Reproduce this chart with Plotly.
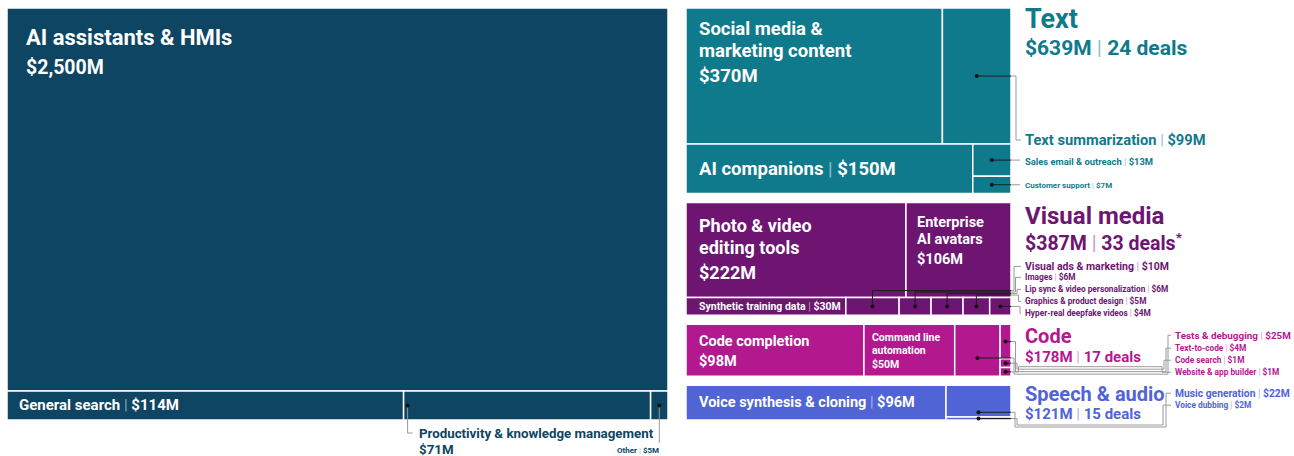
import plotly.graph_objects as go

# ---------------- data ----------------
assist_names = ["AI assistants & HMIs", "General search",
                "Productivity & knowledge management", "Other"]
assist_values = [2500, 114, 71, 5]

text_names = ["Social media & marketing content", "Text summarization",
              "AI companions", "Sales email & outreach", "Customer support"]
text_values = [370, 99, 150, 13, 7]

visual_names = ["Photo & video editing tools", "Enterprise AI avatars",
                "Synthetic training data", "Visual ads & marketing", "Images",
                "Lip sync & video personalization", "Graphics & product design",
                "Hyper-real deepfake videos"]
visual_values = [222, 106, 30, 10, 6, 6, 5, 4]

code_names = ["Code completion", "Command line automation", "Tests & debugging",
              "Text-to-code", "Code search", "Website & app builder"]
code_values = [98, 50, 25, 4, 1, 1]

speech_names = ["Voice synthesis & cloning", "Music generation", "Voice dubbing"]
speech_values = [96, 22, 2]

group_titles = ["Text", "Visual media", "Code", "Speech & audio"]
group_totals = [639, 387, 178, 121]
group_deals = [24, 33, 17, 15]

# ---------------- style ----------------
FONT = "Roboto, 'Noto Sans', Arial, sans-serif"
C_ASSIST = "#0d4562"
C_TEXT = "#0f7a8b"
C_VISUAL = "#6d1571"
C_CODE = "#b3188f"
C_SPEECH = "#5064d6"
IN_LINE = "#1c1c1c"
OUT_LINE = "#9a9a9a"

W, H = 1294, 456


def gsum(item, values):
    return sum(values[j] for j in item) if isinstance(item, list) else values[item]


def layout_block(values, rows, x0, y0, w, h):
    """slice/dice layout: rows stacked vertically, items side by side,
    nested lists stacked vertically inside their column"""
    rects = {}
    row_sums = [sum(gsum(it, values) for it in row) for row in rows]
    total = sum(row_sums)
    y = y0
    for row, rs in zip(rows, row_sums):
        rh = h * rs / total
        x = x0
        for it in row:
            s = gsum(it, values)
            cw = w * s / rs
            if isinstance(it, list):
                yy = y
                for j in it:
                    ch = rh * values[j] / s
                    rects[j] = (x, yy, x + cw, yy + ch)
                    yy += ch
            else:
                rects[it] = (x, y, x + cw, y + rh)
            x += cw
        y += rh
    return rects


# left block
L_X0, L_Y0, L_W, L_H = 7, 8, 661, 412
assist_rects = layout_block(assist_values, [[0], [1, 2, 3]], L_X0, L_Y0, L_W, L_H)

# right blocks
R_X0, R_W, GAP = 686, 325, 9
right = [
    (text_values, [[0, 1], [2, [3, 4]]], C_TEXT),
    (visual_values, [[0, 1], [2, 3, 4, 5, 6, 7]], C_VISUAL),
    (code_values, [[0, 1, 2, [3, 4, 5]]], C_CODE),
    (speech_values, [[0, [1, 2]]], C_SPEECH),
]
sums = [sum(v) for v, _, _ in right]
avail = L_H - GAP * (len(right) - 1)
y = L_Y0
right_rects, right_tops, right_bots = [], [], []
for (vals, rows, col), s in zip(right, sums):
    h = avail * s / sum(sums)
    right_rects.append(layout_block(vals, rows, R_X0, y, R_W, h))
    right_tops.append(y)
    right_bots.append(y + h)
    y += h + GAP
BX = R_X0 + R_W  # right edge of right blocks
text_rects, visual_rects, code_rects, speech_rects = right_rects

fig = go.Figure()
shapes, anns = [], []


def add_rects(rects, color):
    for k, (x0, y0, x1, y1) in rects.items():
        shapes.append(dict(type="rect", xref="x", yref="y", x0=x0, y0=y0, x1=x1, y1=y1,
                           fillcolor=color, line=dict(color="white", width=1.5),
                           layer="below"))


add_rects(assist_rects, C_ASSIST)
for rr, (_, _, col) in zip(right_rects, right):
    add_rects(rr, col)


def ann(x, y, text, size, color, xanchor="left"):
    anns.append(dict(x=x, y=y, xref="x", yref="y", text=text, showarrow=False,
                     xanchor=xanchor, yanchor="middle",
                     font=dict(family=FONT, size=size, color=color)))


def money(v):
    return f"${v:,}M"


def piped(a, b, pcol):
    return f"<b>{a}</b> <span style='color:{pcol}'>|</span> <b>{b}</b>"


WP = "rgba(255,255,255,0.55)"


def cell_lines(rect, lines, size, dx, dys):
    x0, y0, _, _ = rect
    for t, dy in zip(lines, dys):
        ann(x0 + dx, y0 + dy, f"<b>{t}</b>", size, "white")


def cell_piped(rect, name, v, size, dx):
    x0, y0, x1, y1 = rect
    ann(x0 + dx, (y0 + y1) / 2, piped(name, money(v), WP), size, "white")


# inside labels
cell_lines(assist_rects[0], [assist_names[0]], 22, 17, [29])
cell_lines(assist_rects[0], [money(assist_values[0])], 19.5, 17, [59])
cell_piped(assist_rects[1], assist_names[1], assist_values[1], 15, 10)
cell_lines(text_rects[0], ["Social media &", "marketing content", money(text_values[0])], 18.5, 11, [21, 43, 68])
cell_piped(text_rects[2], text_names[2], text_values[2], 18.5, 11)
cell_lines(visual_rects[0], ["Photo & video", "editing tools", money(visual_values[0])], 18, 11, [23, 45, 70])
cell_lines(visual_rects[1], ["Enterprise", "AI avatars", money(visual_values[1])], 14.5, 9, [20, 37, 57])
cell_piped(visual_rects[2], visual_names[2], visual_values[2], 10.5, 11)
cell_lines(code_rects[0], [code_names[0], money(code_values[0])], 14.5, 11, [17, 37])
cell_lines(code_rects[1], ["Command line", "automation", money(code_values[1])], 10.5, 6, [13, 26, 40])
cell_piped(speech_rects[0], speech_names[0], speech_values[0], 14.5, 11)

# group headers
HX = 1023
head_cfg = [  # (title size, title dy, sub size, sub dy, color, light pipe)
    (27, 11, 21, 40, C_TEXT, "#8cc3cc"),
    (24, 14, 19.5, 40, C_VISUAL, "#c49bc6"),
    (20, 12, 15, 33, C_CODE, "#e3a0d2"),
    (20, 9, 15, 29, C_SPEECH, "#aab4ec"),
]
for i, (ts, tdy, ss, sdy, col, pc) in enumerate(head_cfg):
    top = right_tops[i]
    ann(HX, top + tdy, f"<b>{group_titles[i]}</b>", ts, col)
    sub = piped(money(group_totals[i]), f"{group_deals[i]} deals", pc)
    if i == 1:
        sub += "<sup><b>*</b></sup>"
    ann(HX, top + sdy, sub, ss, col)

# leader lines
in_x, in_y, out_x, out_y, dot_x, dot_y = [], [], [], [], [], []


def seg(xs, ys, pts):
    for p in pts:
        xs.append(p[0])
        ys.append(p[1])
    xs.append(None)
    ys.append(None)


def dot(x, y):
    dot_x.append(x)
    dot_y.append(y)


# --- left block
r = assist_rects[2]
px, py = r[0] + 4, (r[1] + r[3]) / 2
dot(px, py)
seg(out_x, out_y, [(px, py), (px, 433), (px + 5, 433)])
ann(px + 9, 433, f"<b>{assist_names[2]}</b>", 13.3, C_ASSIST)
ann(px + 9, 449, f"<b>{money(assist_values[2])}</b>", 13.3, C_ASSIST)
r = assist_rects[3]
ox, oy = (r[0] + r[2]) / 2, (r[1] + r[3]) / 2
dot(ox, oy)
seg(out_x, out_y, [(ox, oy), (ox, 443)])
ann(ox + 2, 450, piped(assist_names[3], money(assist_values[3]), "#9fb4c0"), 8, C_ASSIST, "right")

# --- text
r = text_rects[1]
cx, cy = (r[0] + r[2]) / 2, (r[1] + r[3]) / 2
ly = r[3] - 4
dot(cx, cy)
seg(in_x, in_y, [(cx, cy), (BX, cy)])
seg(out_x, out_y, [(BX, cy), (1016, cy), (1016, ly), (1021, ly)])
ann(HX, ly, piped(text_names[1], money(text_values[1]), "#8cc3cc"), 14.7, C_TEXT)
for j, sz in ((3, 9.4), (4, 8)):
    r = text_rects[j]
    cx, cy = (r[0] + r[2]) / 2, (r[1] + r[3]) / 2
    dot(cx, cy)
    seg(in_x, in_y, [(cx, cy), (BX, cy)])
    seg(out_x, out_y, [(BX, cy), (1020, cy)])
    ann(HX, cy + 1, piped(text_names[j], money(text_values[j]), "#8cc3cc"), sz, C_TEXT)

# --- visual
vtop = right_tops[1]
row_bottom = visual_rects[0][3]
vlab = [64, 75, 87, 99, 111]
for i, j in enumerate(range(3, 8)):
    r = visual_rects[j]
    cx, cy = (r[0] + r[2]) / 2, (r[1] + r[3]) / 2
    ly = vtop + vlab[i]
    dot(cx, cy)
    if i < 4:
        yh = row_bottom - 7 + 1.5 * i
        xv = 1014 + 1.5 * i
        seg(in_x, in_y, [(cx, cy), (cx, yh), (BX, yh)])
        seg(out_x, out_y, [(BX, yh), (xv, yh), (xv, ly), (1021, ly)])
    else:
        seg(in_x, in_y, [(cx, cy), (BX, cy)])
        seg(out_x, out_y, [(BX, cy), (1020, cy), (1020, ly), (1021, ly)])
    ann(HX, ly, piped(visual_names[j], money(visual_values[j]), "#c49bc6"),
        10.5 if i == 0 else 8.3, C_VISUAL)

# --- code
ctop, cbot = right_tops[2], right_bots[2]
clab = [11, 24, 36, 48]
LX2 = 1173
for i, j in enumerate(range(2, 6)):
    r = code_rects[j]
    cx = (r[0] + r[2]) / 2
    cy = r[1] + (r[3] - r[1]) * (0.65 if i == 0 else 0.5)
    ly = ctop + clab[i]
    xa = 1014 + 1.5 * i
    yb = cbot - 2 - 2.5 * i
    xv = 1168 - 2 * i
    dot(cx, cy)
    seg(in_x, in_y, [(cx, cy), (BX, cy)])
    seg(out_x, out_y, [(BX, cy), (xa, cy), (xa, yb), (xv, yb), (xv, ly), (LX2 - 2, ly)])
    ann(LX2, ly, piped(code_names[j], money(code_values[j]), "#e3a0d2"),
        9.9 if i == 0 else 8.3, C_CODE)

# --- speech
stop, sbot = right_tops[3], right_bots[3]
slab = [8, 20]
for i, j in enumerate(range(1, 3)):
    r = speech_rects[j]
    cx = (r[0] + r[2]) / 2
    cy = r[1] + (r[3] - r[1]) * (0.85 if i == 0 else 0.5)
    ly = stop + slab[i]
    xa = 1015 + 2 * i
    yb = sbot + 7 - 2 * i
    xv = 1166 - 3 * i
    dot(cx, cy)
    seg(in_x, in_y, [(cx, cy), (BX, cy)])
    seg(out_x, out_y, [(BX, cy), (xa, cy), (xa, yb), (xv, yb), (xv, ly), (LX2 - 2, ly)])
    ann(LX2, ly, piped(speech_names[j], money(speech_values[j]), "#aab4ec"),
        10.3 if i == 0 else 8.3, C_SPEECH)

fig.add_trace(go.Scatter(x=out_x, y=out_y, mode="lines", line=dict(color=OUT_LINE, width=1),
                         hoverinfo="skip", showlegend=False))
fig.add_trace(go.Scatter(x=in_x, y=in_y, mode="lines", line=dict(color=IN_LINE, width=1),
                         hoverinfo="skip", showlegend=False))
fig.add_trace(go.Scatter(x=dot_x, y=dot_y, mode="markers", marker=dict(color="#111", size=4),
                         hoverinfo="skip", showlegend=False))

fig.update_layout(
    width=W, height=H, margin=dict(l=0, r=0, t=0, b=0),
    paper_bgcolor="white", plot_bgcolor="white",
    xaxis=dict(range=[0, W], visible=False, fixedrange=True),
    yaxis=dict(range=[H, 0], visible=False, fixedrange=True),
    shapes=shapes, annotations=anns, showlegend=False,
)
fig.write_html("out.html", config={"displayModeBar": False},
               post_script="document.body.style.margin='0';document.body.style.overflow='hidden';")
